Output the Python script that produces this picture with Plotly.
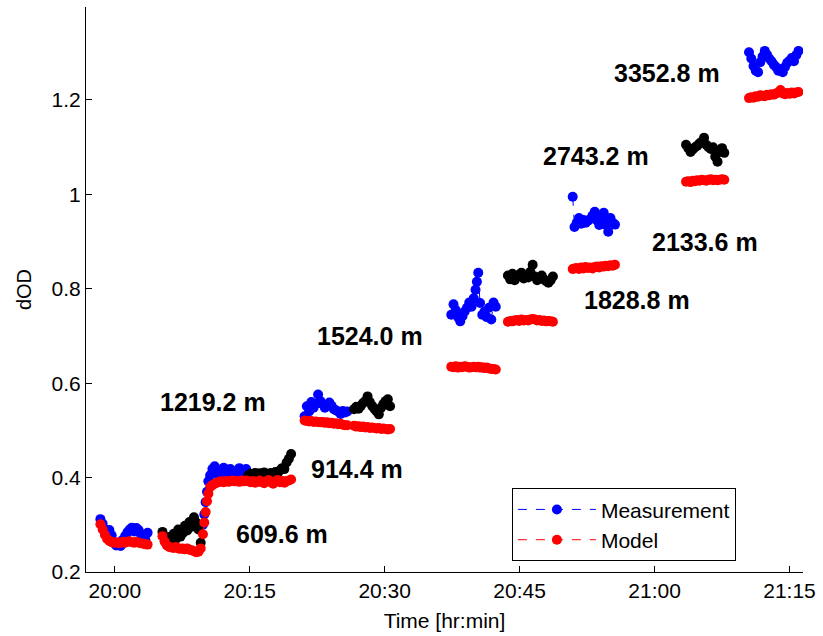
import plotly.graph_objects as go

# Minutes after 20:00 for each altitude leg, with measured and modelled dOD
seg_times = [
    [-1.6, -1.35, -1.1, -0.85, -0.6, -0.35, -0.1, 0.15, 0.4, 0.65, 0.9, 1.15, 1.4, 1.65, 1.9, 2.15, 2.4, 2.65, 2.9, 3.15, 3.4, 3.65],
    [5.3, 5.55, 5.8, 6.05, 6.3, 6.55, 6.8, 7.05, 7.3, 7.55, 7.8, 8.05, 8.3, 8.55, 8.8, 9.05, 9.3, 9.55],
    [9.8, 9.95, 10.1, 10.25, 10.4, 10.6, 10.85, 11.1, 11.35, 11.6, 11.85, 12.1, 12.35, 12.6, 12.85, 13.1, 13.35, 13.6, 13.85, 14.1, 14.35, 14.6],
    [14.85, 15.1, 15.35, 15.6, 15.85, 16.1, 16.35, 16.6, 16.85, 17.1, 17.35, 17.6, 17.85, 18.1, 18.35, 18.6, 18.85, 19.1, 19.35, 19.6],
    [21.1, 21.35, 21.6, 21.85, 22.1, 22.35, 22.6, 22.85, 23.1, 23.35, 23.6, 23.85, 24.1, 24.35, 24.6, 24.85, 25.1, 25.35, 25.6, 25.85],
    [26.6, 26.85, 27.1, 27.35, 27.6, 27.85, 28.1, 28.35, 28.6, 28.85, 29.1, 29.35, 29.6, 29.85, 30.1, 30.35, 30.6],
    [37.4, 37.65, 37.9, 38.15, 38.4, 38.65, 38.9, 39.15, 39.4, 39.65, 39.9, 40.1, 40.25, 40.4, 40.6, 40.85, 41.1, 41.35, 41.6, 41.85, 42.1, 42.35],
    [43.7, 43.95, 44.2, 44.45, 44.7, 44.95, 45.2, 45.45, 45.7, 45.95, 46.2, 46.45, 46.7, 46.95, 47.2, 47.45, 47.7, 47.95, 48.2, 48.45, 48.7],
    [50.9, 51.1, 51.35, 51.6, 51.85, 52.1, 52.35, 52.6, 52.85, 53.1, 53.35, 53.6, 53.85, 54.1, 54.35, 54.6, 54.85, 55.1, 55.35, 55.6],
    [63.5, 63.75, 64.0, 64.25, 64.5, 64.75, 65.0, 65.25, 65.5, 65.75, 66.0, 66.25, 66.5, 66.75, 67.0, 67.25, 67.5, 67.75],
    [70.5, 70.75, 71.0, 71.25, 71.5, 71.75, 72.0, 72.25, 72.5, 72.75, 73.0, 73.25, 73.5, 73.75, 74.0, 74.25, 74.5, 74.75, 75.0, 75.25, 75.5, 75.75, 76.0],
]

seg_measurement = [
    [0.312, 0.302, 0.290, 0.286, 0.289, 0.278, 0.262, 0.256, 0.262, 0.255, 0.268, 0.276, 0.284, 0.290, 0.294, 0.286, 0.293, 0.289, 0.280, 0.272, 0.268, 0.283],
    [0.285, 0.265, 0.258, 0.274, 0.262, 0.281, 0.270, 0.290, 0.275, 0.282, 0.298, 0.288, 0.306, 0.296, 0.316, 0.305, 0.290, 0.262],
    [0.300, 0.322, 0.348, 0.370, 0.392, 0.405, 0.418, 0.424, 0.412, 0.403, 0.416, 0.421, 0.408, 0.414, 0.418, 0.410, 0.405, 0.415, 0.420, 0.412, 0.408, 0.418],
    [0.405, 0.408, 0.404, 0.410, 0.407, 0.409, 0.404, 0.411, 0.408, 0.406, 0.410, 0.407, 0.412, 0.409, 0.415, 0.420, 0.418, 0.432, 0.440, 0.450],
    [0.530, 0.551, 0.540, 0.560, 0.548, 0.556, 0.576, 0.562, 0.556, 0.548, 0.553, 0.559, 0.552, 0.545, 0.542, 0.540, 0.535, 0.541, 0.538, 0.540],
    [0.545, 0.550, 0.546, 0.552, 0.558, 0.562, 0.572, 0.560, 0.552, 0.546, 0.540, 0.534, 0.548, 0.556, 0.562, 0.566, 0.551],
    [0.745, 0.767, 0.755, 0.740, 0.731, 0.742, 0.752, 0.760, 0.771, 0.762, 0.780, 0.798, 0.815, 0.834, 0.770, 0.745, 0.752, 0.740, 0.760, 0.735, 0.771, 0.762],
    [0.828, 0.820, 0.832, 0.818, 0.825, 0.830, 0.834, 0.822, 0.828, 0.824, 0.836, 0.851, 0.826, 0.818, 0.822, 0.828, 0.820, 0.816, 0.813, 0.818, 0.826],
    [0.995, 0.931, 0.940, 0.950, 0.938, 0.946, 0.940, 0.944, 0.948, 0.955, 0.963, 0.945, 0.935, 0.950, 0.961, 0.935, 0.921, 0.950, 0.940, 0.936],
    [1.105, 1.098, 1.090, 1.095, 1.100, 1.103, 1.108, 1.112, 1.120, 1.105, 1.100, 1.096, 1.100, 1.080, 1.069, 1.090, 1.098, 1.088],
    [1.301, 1.288, 1.272, 1.262, 1.259, 1.280, 1.292, 1.304, 1.296, 1.288, 1.282, 1.275, 1.270, 1.262, 1.265, 1.259, 1.270, 1.279, 1.283, 1.289, 1.282, 1.295, 1.304],
]

seg_model = [
    [0.301, 0.290, 0.279, 0.270, 0.266, 0.263, 0.262, 0.263, 0.261, 0.262, 0.264, 0.262, 0.264, 0.265, 0.263, 0.262, 0.264, 0.262, 0.261, 0.260, 0.259, 0.258],
    [0.276, 0.264, 0.256, 0.253, 0.252, 0.251, 0.253, 0.250, 0.249, 0.250, 0.248, 0.250, 0.247, 0.246, 0.244, 0.242, 0.243, 0.250],
    [0.280, 0.305, 0.327, 0.350, 0.366, 0.380, 0.384, 0.387, 0.389, 0.391, 0.392, 0.390, 0.393, 0.391, 0.392, 0.394, 0.392, 0.393, 0.391, 0.394, 0.392, 0.394],
    [0.392, 0.390, 0.393, 0.389, 0.391, 0.394, 0.390, 0.388, 0.392, 0.395, 0.390, 0.387, 0.392, 0.395, 0.390, 0.393, 0.389, 0.393, 0.394, 0.396],
    [0.521, 0.520, 0.519, 0.520, 0.518, 0.519, 0.518, 0.517, 0.518, 0.516, 0.517, 0.515, 0.516, 0.514, 0.515, 0.513, 0.514, 0.512, 0.511, 0.511],
    [0.510, 0.508, 0.509, 0.507, 0.508, 0.506, 0.507, 0.505, 0.506, 0.505, 0.504, 0.505, 0.503, 0.504, 0.503, 0.502, 0.503],
    [0.635, 0.634, 0.636, 0.633, 0.635, 0.634, 0.636, 0.635, 0.633, 0.634, 0.635, 0.634, 0.634, 0.635, 0.633, 0.634, 0.632, 0.633, 0.631, 0.630, 0.630, 0.629],
    [0.730, 0.732, 0.731, 0.733, 0.734, 0.732, 0.735, 0.733, 0.734, 0.733, 0.735, 0.736, 0.735, 0.733, 0.734, 0.732, 0.733, 0.731, 0.732, 0.731, 0.730],
    [0.842, 0.843, 0.844, 0.842, 0.845, 0.843, 0.846, 0.844, 0.845, 0.843, 0.846, 0.847, 0.845, 0.848, 0.847, 0.849, 0.848, 0.850, 0.849, 0.851],
    [1.027, 1.028, 1.026, 1.029, 1.028, 1.030, 1.029, 1.031, 1.030, 1.029, 1.031, 1.032, 1.030, 1.031, 1.030, 1.031, 1.032, 1.031],
    [1.204, 1.206, 1.205, 1.208, 1.207, 1.210, 1.209, 1.208, 1.211, 1.210, 1.212, 1.211, 1.214, 1.216, 1.221, 1.214, 1.212, 1.215, 1.213, 1.216, 1.214, 1.216, 1.217],
]

# Measurement colour per leg: legs alternate blue / black
seg_colors = ["blue", "black", "blue", "black", "blue", "black",
              "blue", "black", "blue", "black", "blue"]

# Altitude labels
altitude_labels = ["609.6 m", "914.4 m", "1219.2 m", "1524.0 m",
                   "1828.8 m", "2743.2 m", "2133.6 m", "3352.8 m"]
label_x = [18.6, 26.9, 10.9, 28.4, 58.0, 53.5, 65.6, 61.4]
label_y = [0.280, 0.418, 0.561, 0.701, 0.777, 1.082, 0.900, 1.257]

tick_minutes = [0, 15, 30, 45, 60, 75]
tick_text = ["20:00", "20:15", "20:30", "20:45", "21:00", "21:15"]
y_ticks = [0.2, 0.4, 0.6, 0.8, 1.0, 1.2]
y_tick_text = ["0.2", "0.4", "0.6", "0.8", "1", "1.2"]


def joined(lists_x, lists_y, keep):
    xs, ys = [], []
    for i, (tx, vy) in enumerate(zip(lists_x, lists_y)):
        if not keep(i):
            continue
        xs += list(tx) + [None]
        ys += list(vy) + [None]
    return xs, ys


FONT = "Liberation Sans, Arial, sans-serif"
MS = 10
LW = 1.0

fig = go.Figure()

bx, by = joined(seg_times, seg_measurement, lambda i: seg_colors[i] == "blue")
kx, ky = joined(seg_times, seg_measurement, lambda i: seg_colors[i] == "black")
rx, ry = joined(seg_times, seg_model, lambda i: True)

fig.add_trace(go.Scatter(
    x=bx, y=by, mode="lines+markers", name="Measurement",
    line=dict(color="blue", width=LW, dash="dash"),
    marker=dict(color="blue", size=MS),
))
fig.add_trace(go.Scatter(
    x=kx, y=ky, mode="lines+markers", name="Measurement", showlegend=False,
    line=dict(color="black", width=LW, dash="dash"),
    marker=dict(color="black", size=MS),
))
fig.add_trace(go.Scatter(
    x=rx, y=ry, mode="lines+markers", name="Model",
    line=dict(color="red", width=LW, dash="dash"),
    marker=dict(color="red", size=MS),
))

for txt, lx, ly in zip(altitude_labels, label_x, label_y):
    fig.add_annotation(
        x=lx, y=ly, text=f"<b>{txt}</b>", showarrow=False,
        font=dict(family=FONT, size=25, color="black"),
        xanchor="center", yanchor="middle",
    )

axis_common = dict(
    showline=True, linecolor="black", linewidth=1, mirror=False,
    ticks="inside", ticklen=6, tickcolor="black", tickwidth=1,
    showgrid=False, zeroline=False, ticklabeloverflow="allow",
    tickfont=dict(family=FONT, size=21, color="black"),
)

fig.update_layout(
    width=823, height=636,
    margin=dict(l=86, r=12, t=7, b=63),
    paper_bgcolor="white", plot_bgcolor="white",
    showlegend=True,
    legend=dict(
        x=0.594, y=0.019, xanchor="left", yanchor="bottom",
        bgcolor="white", bordercolor="black", borderwidth=1,
        font=dict(family=FONT, size=21, color="black"),
        itemwidth=78, tracegroupgap=2,
    ),
    xaxis=dict(
        range=[-3.2, 76.5], tickvals=tick_minutes, ticktext=tick_text,
        title=dict(text="Time [hr:min]", font=dict(family=FONT, size=21, color="black"), standoff=12),
        **axis_common,
    ),
    yaxis=dict(
        range=[0.2, 1.397], tickvals=y_ticks, ticktext=y_tick_text,
        title=dict(text="dOD", font=dict(family=FONT, size=20, color="black"), standoff=14),
        **axis_common,
    ),
)

fig.write_html("out.html")
